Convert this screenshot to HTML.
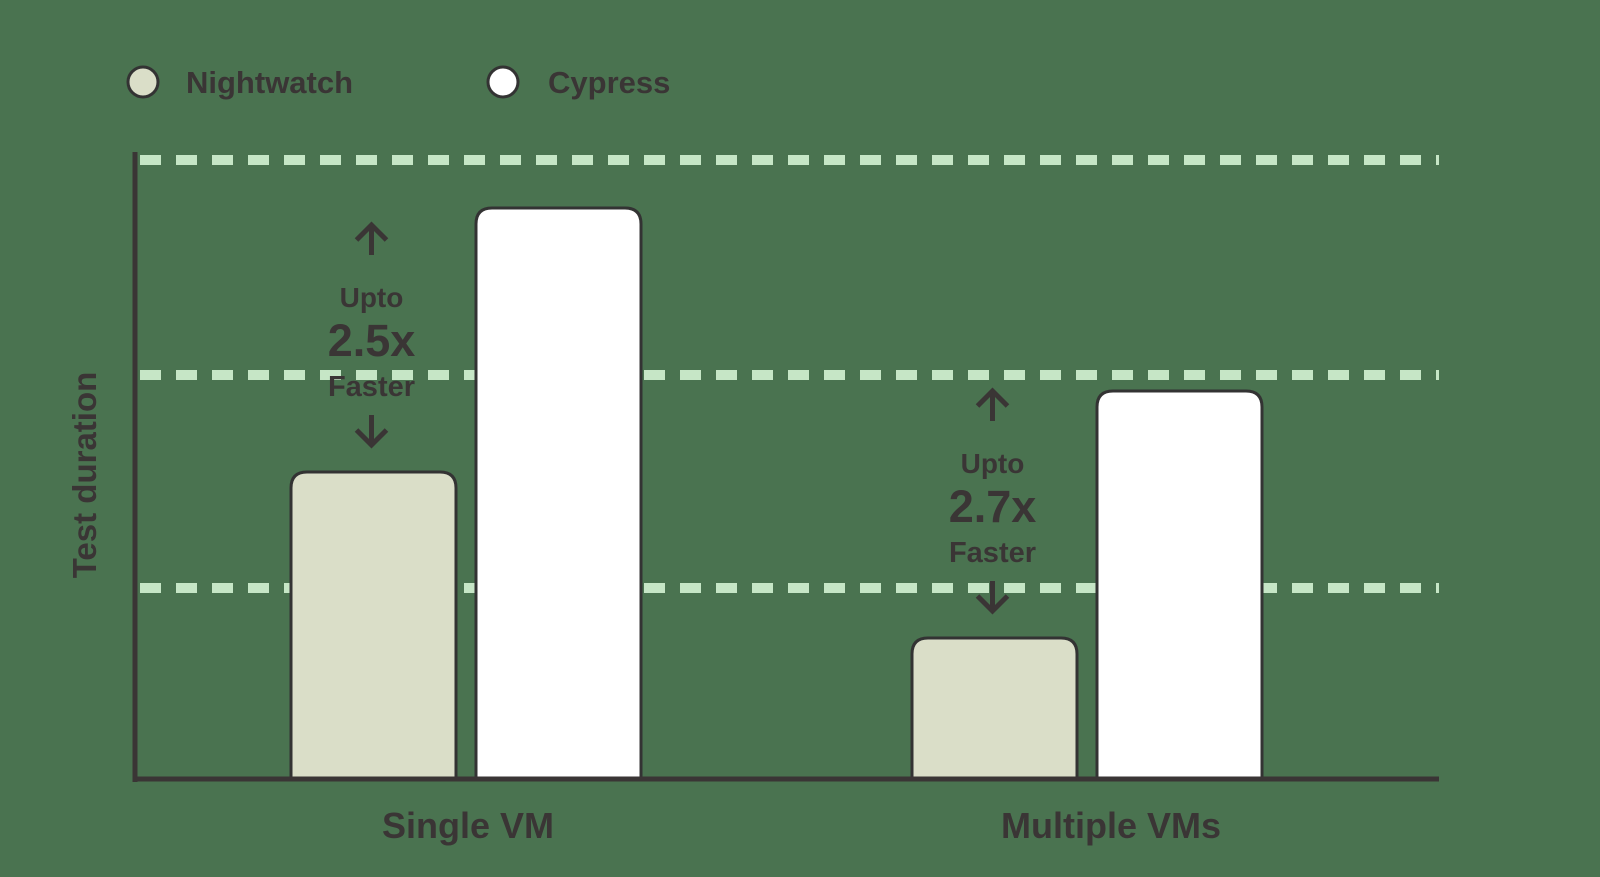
<!DOCTYPE html>
<html><head><meta charset="utf-8"><style>
html,body{margin:0;padding:0;background:#4a7350;}
svg{display:block}
text{font-family:"Liberation Sans",sans-serif;font-weight:bold;fill:#3a3535;}
</style></head><body>
<svg id="chart" width="1600" height="877" viewBox="0 0 1600 877">
<rect width="1600" height="877" fill="#4a7350"/>
<g>
  <circle cx="143" cy="82" r="15" fill="#dadec8" stroke="#333" stroke-width="3"/>
  <text x="186" y="93" font-size="31">Nightwatch</text>
  <circle cx="503" cy="82" r="15" fill="#fff" stroke="#333" stroke-width="3"/>
  <text x="548" y="93" font-size="31">Cypress</text>
</g>
<g id="grid"></g>
<g id="bars"></g>
<line x1="135" y1="152" x2="135" y2="782" stroke="#3a3535" stroke-width="5"/>
<line x1="133" y1="779" x2="1439" y2="779" stroke="#3a3535" stroke-width="5"/>
<text transform="translate(96,475) rotate(-90)" text-anchor="middle" font-size="33">Test duration</text>
<g id="labels"></g>
<g id="annots"></g>
</svg>
<script>
const categories = ["Single VM", "Multiple VMs"];
const nightwatch = [3.04, 1.38];
const cypress = [5.68, 3.85];
const gridValues = [1.88, 4.01, 6.16];
const speedups = ["2.5x", "2.7x"];

const NS = "http://www.w3.org/2000/svg";
const baseY = 776, pxPerUnit = 100;
const y = v => baseY - v * pxPerUnit;
const groupX = i => 291 + i * 621;
const labelShift = [2, 24];
const barW = 165, gap = 20;
function mk(tag, attrs, parent){const e=document.createElementNS(NS,tag);for(const k in attrs)e.setAttribute(k,attrs[k]);parent.appendChild(e);return e;}
const grid=document.getElementById('grid'), bars=document.getElementById('bars'), labels=document.getElementById('labels'), annots=document.getElementById('annots');
gridValues.forEach(v=>{
  const l=mk('line',{x1:140,x2:1439,y1:y(v),y2:y(v),stroke:"#c6e6c6","stroke-width":10,"stroke-dasharray":"21 15"},grid);
  
  
});
function barPath(x,top,w,bottom,r){return `M${x},${bottom} L${x},${top+r} Q${x},${top} ${x+r},${top} L${x+w-r},${top} Q${x+w},${top} ${x+w},${top+r} L${x+w},${bottom}`;}
categories.forEach((c,i)=>{
  const x0=groupX(i);
  const p1=mk('path',{d:barPath(x0,y(nightwatch[i]),barW,baseY+2,16),fill:"#dadec8",stroke:"#333","stroke-width":3},bars);
  
  
  const x1=x0+barW+gap;
  const p2=mk('path',{d:barPath(x1,y(cypress[i]),barW,baseY+2,16),fill:"#ffffff",stroke:"#333","stroke-width":3},bars);
  
  
  const t=mk('text',{x:x0+barW+gap/2+labelShift[i],y:838,"text-anchor":"middle","font-size":36},labels);
  t.textContent=c;
  
  
  const cx=x0+barW/2-2, botA=y(nightwatch[i])-27, topA=botA-220;
  const mid=(topA+botA)/2;
  const g=mk('g',{},annots);
  
  
  mk('path',{d:`M${cx},${topA+30} L${cx},${topA} M${cx-15},${topA+15} L${cx},${topA} L${cx+15},${topA+15}`,stroke:"#3a3535","stroke-width":5,fill:"none"},g);
  mk('path',{d:`M${cx},${botA-30} L${cx},${botA} M${cx-15},${botA-15} L${cx},${botA} L${cx+15},${botA-15}`,stroke:"#3a3535","stroke-width":5,fill:"none"},g);
  const a=mk('text',{x:cx,y:mid-28,"text-anchor":"middle","font-size":28},g);a.textContent="Upto";
  const b=mk('text',{x:cx,y:mid+21,"text-anchor":"middle","font-size":45},g);b.textContent=speedups[i];
  const d=mk('text',{x:cx,y:mid+61,"text-anchor":"middle","font-size":29},g);d.textContent="Faster";
});
</script>
</body></html>
